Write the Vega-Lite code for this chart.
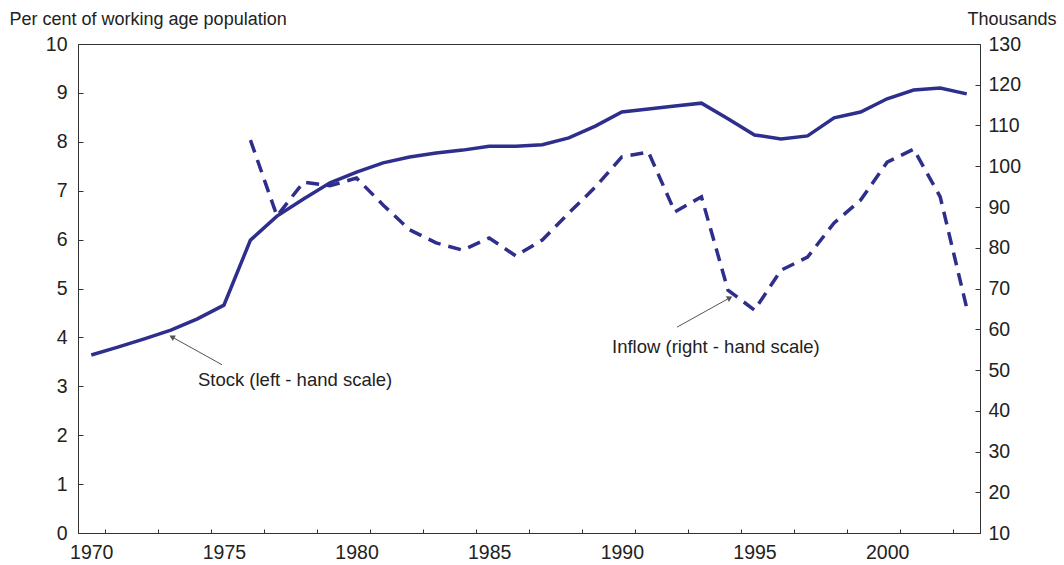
{
  "$schema": "https://vega.github.io/schema/vega-lite/v6.json",
  "width": 902,
  "height": 489,
  "autosize": "none",
  "padding": {"left": 78, "top": 44, "right": 84, "bottom": 32},
  "background": "white",
  "config": {
    "view": {"stroke": "#333333", "strokeWidth": 1},
    "font": "Liberation Sans",
    "axis": {
      "grid": false,
      "labelFont": "Liberation Sans",
      "labelFontSize": 19.5,
      "labelColor": "#222222",
      "domainColor": "#333333",
      "tickColor": "#333333",
      "titleFont": "Liberation Sans",
      "titleFontSize": 18,
      "titleFontWeight": "normal",
      "titleColor": "#222222"
    }
  },
  "datasets": {
    "series": [
      {"year": 1970, "stock": 3.64, "inflow": null},
      {"year": 1971, "stock": 3.80, "inflow": null},
      {"year": 1972, "stock": 3.97, "inflow": null},
      {"year": 1973, "stock": 4.15, "inflow": null},
      {"year": 1974, "stock": 4.38, "inflow": null},
      {"year": 1975, "stock": 4.66, "inflow": null},
      {"year": 1976, "stock": 5.99, "inflow": 106.4},
      {"year": 1977, "stock": 6.48, "inflow": 87.8},
      {"year": 1978, "stock": 6.83, "inflow": 96.1},
      {"year": 1979, "stock": 7.16, "inflow": 95.2},
      {"year": 1980, "stock": 7.38, "inflow": 97.1},
      {"year": 1981, "stock": 7.57, "inflow": 90.5},
      {"year": 1982, "stock": 7.69, "inflow": 84.4},
      {"year": 1983, "stock": 7.77, "inflow": 81.2},
      {"year": 1984, "stock": 7.83, "inflow": 79.4},
      {"year": 1985, "stock": 7.91, "inflow": 82.4},
      {"year": 1986, "stock": 7.91, "inflow": 78.0},
      {"year": 1987, "stock": 7.94, "inflow": 81.9},
      {"year": 1988, "stock": 8.08, "inflow": 88.5},
      {"year": 1989, "stock": 8.32, "inflow": 94.9},
      {"year": 1990, "stock": 8.61, "inflow": 102.3},
      {"year": 1991, "stock": 8.67, "inflow": 103.5},
      {"year": 1992, "stock": 8.73, "inflow": 88.8},
      {"year": 1993, "stock": 8.79, "inflow": 92.5},
      {"year": 1994, "stock": 8.47, "inflow": 69.6},
      {"year": 1995, "stock": 8.14, "inflow": 64.7},
      {"year": 1996, "stock": 8.06, "inflow": 74.5},
      {"year": 1997, "stock": 8.12, "inflow": 77.7},
      {"year": 1998, "stock": 8.49, "inflow": 86.1},
      {"year": 1999, "stock": 8.61, "inflow": 91.7},
      {"year": 2000, "stock": 8.88, "inflow": 101.0},
      {"year": 2001, "stock": 9.06, "inflow": 104.2},
      {"year": 2002, "stock": 9.10, "inflow": 92.5},
      {"year": 2003, "stock": 8.98, "inflow": 65.2}
    ],
    "arrows": [
      {"name": "stock", "x0": 1974.93, "y0": 3.44, "x1": 1973.04, "y1": 4.01},
      {"name": "inflow", "x0": 1992.08, "y0": 4.21, "x1": 1994.07, "y1": 4.81}
    ],
    "notes": [
      {"label": "Stock (left - hand scale)", "x": 1974.02, "y": 3.13},
      {"label": "Inflow (right - hand scale)", "x": 1989.63, "y": 3.8}
    ]
  },
  "layer": [
    {
      "layer": [
        {
          "data": {"name": "series"},
          "mark": {"type": "line", "color": "#2e2e8c", "strokeWidth": 3.5},
          "encoding": {
            "x": {
              "field": "year", "type": "quantitative",
              "scale": {"domain": [1969.5, 2003.5], "nice": false, "zero": false},
              "axis": {
                "orient": "bottom",
                "title": null,
                "values": [1970,1971,1972,1973,1974,1975,1976,1977,1978,1979,1980,1981,1982,1983,1984,1985,1986,1987,1988,1989,1990,1991,1992,1993,1994,1995,1996,1997,1998,1999,2000,2001,2002,2003],
                "tickOffset": 13.26,
                "tickSize": -4,
                "labels": false,
                "domain": true
              }
            },
            "y": {
              "field": "stock", "type": "quantitative",
              "scale": {"domain": [0, 10], "nice": false, "zero": true},
              "axis": {
                "values": [0,1,2,3,4,5,6,7,8,9,10],
                "tickSize": -5,
                "labelPadding": 16,
                "title": "Per cent of working age population",
                "titleAngle": 0,
                "titleAlign": "left",
                "titleBaseline": "middle",
                "titleX": -69,
                "titleY": -25
              }
            }
          }
        },
        {
          "data": {"name": "arrows"},
          "mark": {"type": "rule", "color": "#555555", "strokeWidth": 1},
          "encoding": {
            "x": {"field": "x0", "type": "quantitative"},
            "y": {"field": "y0", "type": "quantitative"},
            "x2": {"field": "x1"},
            "y2": {"field": "y1"}
          }
        },
        {
          "data": {"name": "arrows"},
          "transform": [{"filter": "datum.name === 'stock'"}],
          "mark": {"type": "point", "shape": "triangle-up", "filled": true, "color": "#555555", "size": 40, "angle": 299, "opacity": 1},
          "encoding": {
            "x": {"field": "x1", "type": "quantitative"},
            "y": {"field": "y1", "type": "quantitative"}
          }
        },
        {
          "data": {"name": "arrows"},
          "transform": [{"filter": "datum.name === 'inflow'"}],
          "mark": {"type": "point", "shape": "triangle-up", "filled": true, "color": "#555555", "size": 40, "angle": 61, "opacity": 1},
          "encoding": {
            "x": {"field": "x1", "type": "quantitative"},
            "y": {"field": "y1", "type": "quantitative"}
          }
        },
        {
          "data": {"name": "notes"},
          "mark": {"type": "text", "align": "left", "baseline": "middle", "fontSize": 18.5, "color": "#222222", "font": "Liberation Sans"},
          "encoding": {
            "x": {"field": "x", "type": "quantitative"},
            "y": {"field": "y", "type": "quantitative"},
            "text": {"field": "label"}
          }
        }
      ]
    },
    {
      "data": {"name": "series"},
      "transform": [{"filter": "datum.inflow != null"}],
      "mark": {"type": "line", "color": "#2e2e8c", "strokeWidth": 3.5, "strokeDash": [13, 8]},
      "encoding": {
        "x": {
          "field": "year", "type": "quantitative",
          "axis": {
            "orient": "bottom",
            "title": null,
            "values": [1970, 1975, 1980, 1985, 1990, 1995, 2000],
            "format": "d",
            "ticks": false,
            "domain": false,
            "labelPadding": 10,
            "labelOverlap": false,
            "labelFlush": false
          }
        },
        "y": {
          "field": "inflow", "type": "quantitative",
          "scale": {"domain": [10, 130], "nice": false, "zero": false},
          "axis": {
            "orient": "right",
            "values": [10,20,30,40,50,60,70,80,90,100,110,120,130],
            "tickSize": -5,
            "labelPadding": 13,
            "title": "Thousands",
            "titleAngle": 0,
            "titleAlign": "right",
            "titleBaseline": "middle",
            "titleX": 76,
            "titleY": -25
          }
        }
      }
    }
  ],
  "resolve": {"scale": {"y": "independent"}, "axis": {"x": "independent"}}
}
